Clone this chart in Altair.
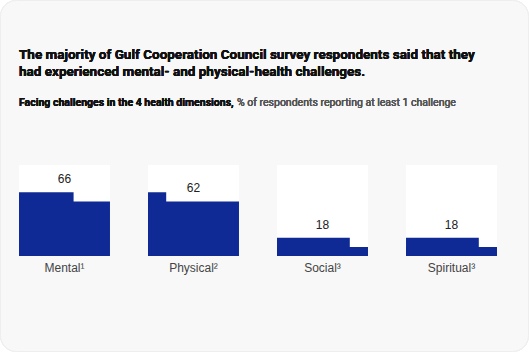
import altair as alt
import pandas as pd

categories = ["Mental¹", "Physical²", "Social³", "Spiritual³"]
values = [66, 62, 18, 18]

title_lines = [
    "The majority of Gulf Cooperation Council survey respondents said that they",
    "had experienced mental- and physical-health challenges.",
]
subtitle_bold = "Facing challenges in the 4 health dimensions,"
subtitle_regular = "% of respondents reporting at least 1 challenge"

BLUE = "#0f2a94"
GAP = 14.18  # panel pitch in grid units (box = 10 units)
W = 478
H = 91

df = pd.DataFrame({"cat": categories, "value": values, "idx": list(range(len(values)))})

base = alt.Chart(df).transform_calculate(
    full="floor(datum.value / 10)",
    rem="datum.value % 10",
    x0=f"datum.idx * {GAP}",
).transform_calculate(
    xend="datum.x0 + 10",
    xrem="datum.x0 + datum.rem",
    fullTop="datum.full + 1",
    xmid="datum.x0 + 5",
    zero="0",
    ten="10",
    labely="datum.rem >= 5 ? datum.full + 1 : datum.full",
)

xs = alt.Scale(domain=[0, 3 * GAP + 10], range=[0, W], nice=False, zero=False)
ys = alt.Scale(domain=[0, 10], nice=False, zero=False)
X = lambda f: alt.X(f"{f}:Q", scale=xs, axis=None)
Y = lambda f: alt.Y(f"{f}:Q", scale=ys, axis=None)

card = alt.Chart(df).mark_rect(
    fill="#f8f8f8", stroke="#eeeeee", strokeWidth=1, cornerRadius=16
).encode(
    x=alt.value(-18.5), x2=alt.value(509.5), y=alt.value(-164.5), y2=alt.value(186.5)
)

box = base.mark_rect(fill="white").encode(x=X("x0"), x2="xend:Q", y=Y("zero"), y2="ten:Q")
part = base.mark_rect(color=BLUE).encode(x=X("x0"), x2="xrem:Q", y=Y("zero"), y2="fullTop:Q")
full = base.mark_rect(color=BLUE).encode(x=X("x0"), x2="xend:Q", y=Y("zero"), y2="full:Q")
label = base.mark_text(
    font="Liberation Sans", fontSize=12, color="#222222", baseline="bottom", dy=-6
).encode(x=X("xmid"), y=Y("labely"), text=alt.Text("value:Q"))
cat = base.mark_text(
    font="Liberation Sans", fontSize=12, color="#444444", baseline="middle"
).encode(x=X("xmid"), y=alt.value(103), text="cat:N")

TF = "Roboto"
t1 = alt.Chart(df).mark_text(
    font=TF, fontSize=13.5, fontWeight="bold", color="#111111", align="left", baseline="middle"
).encode(x=alt.value(0), y=alt.value(-110), text=alt.value(title_lines[0]))
t2 = alt.Chart(df).mark_text(
    font=TF, fontSize=13.5, fontWeight="bold", color="#111111", align="left", baseline="middle"
).encode(x=alt.value(0), y=alt.value(-93), text=alt.value(title_lines[1]))
s1 = alt.Chart(df).mark_text(
    font=TF, fontSize=10.5, fontWeight="bold", color="#111111", align="left", baseline="middle"
).encode(x=alt.value(0), y=alt.value(-62), text=alt.value(subtitle_bold))
s2 = alt.Chart(df).mark_text(
    font=TF, fontSize=10.5, color="#555555", align="left", baseline="middle"
).encode(x=alt.value(218), y=alt.value(-62), text=alt.value(subtitle_regular))

chart = alt.layer(card, box, part, full, label, cat, t1, t2, s1, s2).properties(
    width=W, height=H,
    padding={"left": 19, "top": 165, "right": 32, "bottom": 96},
    autosize=alt.AutoSizeParams(type="none"),
    background="white",
).configure_view(stroke=None)

chart.save("out.html", embed_options={"renderer": "svg", "actions": False})
